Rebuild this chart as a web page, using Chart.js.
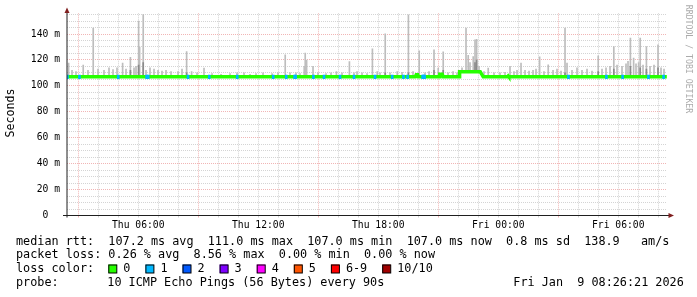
<!DOCTYPE html>
<html>
<head>
<meta charset="utf-8">
<script src="https://cdn.jsdelivr.net/npm/chart.js@4.4.1/dist/chart.umd.min.js"></script>
<style>
  html, body { margin: 0; padding: 0; background: #fff; }
  canvas { display: block; }
</style>
</head>
<body>
<canvas id="smoke" width="697" height="297"></canvas>
<script>
// x is hours since Thu 00:00, the graph covers 30h ending Fri 08:26:21
const startHour = 2 + 26 / 60 + 21 / 3600;
const endHour = startHour + 30;

const xLabelHours = [6, 12, 18, 24, 30];
const xLabels = ['Thu 06:00', 'Thu 12:00', 'Thu 18:00', 'Fri 00:00', 'Fri 06:00'];
const yLabelValues = [0, 20, 40, 60, 80, 100, 120, 140];
const yLabels = ['0  ', '20 m', '40 m', '60 m', '80 m', '100 m', '120 m', '140 m'];

// median rtt in ms
const medianHours = [2.44, 19.85, 19.90, 19.97, 20.00, 21.05, 21.08, 21.20, 21.25, 22.05, 22.07, 23.10, 23.25, 24.47, 24.50, 24.53, 32.43];
const medianMs    = [107,  107,   108.5, 108.5, 107,   107,   109,   109,   107,   107,   111,   111,   107,   107,   107.6, 107,   107];

// 1/10 packet loss steps
const lossHours = [2.46, 3.06, 5.00, 6.42, 6.50, 8.49, 9.55, 10.95, 12.75, 13.40, 13.82, 13.87, 14.76, 15.29,
  16.09, 16.79, 17.84, 18.70, 19.26, 19.47, 20.22, 20.27, 20.32, 27.51, 29.41, 30.22, 31.51, 32.27];

// smoke: highest ping per spike (ms)
const smokeHours = [2.52, 2.69, 2.89, 3.25, 3.49, 3.75, 3.99, 4.29, 4.54, 4.74, 4.94, 5.22, 5.39, 5.61, 5.79, 5.89,
  6.02, 6.07, 6.25, 6.39, 6.59, 6.79, 6.99, 7.19, 7.39, 7.64, 7.99, 8.19, 8.42, 8.67, 8.94, 9.29, 9.69, 10.14,
  10.59, 10.94, 11.29, 11.59, 11.89, 12.24, 12.69, 12.99, 13.35, 13.59, 13.89, 14.09, 14.30, 14.35, 14.42, 14.74,
  14.99, 15.39, 15.64, 15.91, 16.19, 16.56, 16.79, 16.94, 17.19, 17.44, 17.71, 17.95, 18.09, 18.35, 18.59, 18.95,
  19.19, 19.51, 19.74, 20.05, 20.34, 20.54, 20.79, 21.00, 21.25, 21.49, 21.74, 21.94, 22.19, 22.39, 22.50, 22.59,
  22.75, 22.84, 22.92, 23.04, 23.29, 23.50, 23.79, 24.09, 24.34, 24.59, 24.79, 24.94, 25.14, 25.34, 25.54, 25.74,
  25.89, 26.07, 26.29, 26.50, 26.74, 26.94, 27.14, 27.34, 27.44, 27.69, 27.94, 28.19, 28.44, 28.69, 29.00, 29.19,
  29.39, 29.59, 29.78, 29.94, 30.19, 30.39, 30.49, 30.61, 30.77, 30.89, 31.02, 31.10, 31.24, 31.41, 31.59, 31.79,
  31.99, 32.14, 32.29];
const smokeTops = [117.6, 112, 111, 116, 112, 144.6, 113, 112, 114, 112.5, 114, 117.6, 113, 122, 114, 115,
  150, 130, 155, 112, 114, 113, 112, 111.5, 112, 111, 111, 113, 126.5, 111, 110, 113.7, 109.5, 109,
  109.5, 110, 110, 109, 109.5, 110, 109.5, 110, 124, 110, 110, 109.5, 115, 125.3, 120, 115,
  110, 109.5, 110, 111, 110, 118.8, 110, 111, 110, 109.5, 128.6, 111, 110, 140.2, 110, 111,
  110.5, 154.9, 111, 127, 110, 111, 127.9, 113.7, 126.3, 110, 111, 110, 114, 144.6, 123.5, 118,
  122.7, 135.6, 136, 115, 111, 113.7, 110, 110, 110.5, 115, 111, 112, 117.6, 112, 111.5, 112,
  113, 122.5, 111, 116.3, 112, 113, 111.5, 144.6, 117.6, 112, 114, 112, 113, 111.5, 123.2, 113,
  114, 115, 130.3, 116, 115, 117, 119, 136.9, 121.4, 117, 118, 136.9, 116, 130.4, 115, 116,
  131.7, 114, 113];

// darker inner smoke
const darkHours = [5.61, 6.02, 6.25, 8.42, 18.35, 19.51, 20.79, 21.25, 22.84, 22.92, 27.34, 29.00, 29.78, 30.61, 31.10, 31.41, 31.99];
const darkTops  = [112,  116,  118,  110,  110,   110,   112,   112,   118,   120,   110,   111,   113,   115,   114,   113,   114];

const statLines = [
  'median rtt:  107.2 ms avg  111.0 ms max  107.0 ms min  107.0 ms now  0.8 ms sd  138.9   am/s',
  'packet loss: 0.26 % avg  8.56 % max  0.00 % min  0.00 % now'
];
const lossLabels = ['0', '1', '2', '3', '4', '5', '6-9', '10/10'];
const lossColors = ['#26ff00', '#00b8ff', '#0059ff', '#7e00ff', '#ff00ff', '#ff5500', '#ff0000', '#a10000'];
const probeText = '10 ICMP Echo Pings (56 Bytes) every 90s';
const dateText = 'Fri Jan  9 08:26:21 2026';

const MONO = '"DejaVu Sans Mono", monospace';
const minorGrid = 'rgba(143,143,143,0.38)';
const majorGrid = 'rgba(222,79,79,0.42)';

function medianAt(h) {
  for (let i = 1; i < medianHours.length; i++) {
    if (h <= medianHours[i]) {
      const t = (h - medianHours[i - 1]) / (medianHours[i] - medianHours[i - 1]);
      return medianMs[i - 1] + t * (medianMs[i] - medianMs[i - 1]);
    }
  }
  return medianMs[medianMs.length - 1];
}

const rrdDecor = {
  id: 'rrdDecor',
  beforeDraw(chart) {
    const c = chart.ctx;
    c.save();
    c.fillStyle = '#fff';
    c.fillRect(0, 0, chart.width, chart.height);
    c.restore();
  },
  afterDraw(chart) {
    const c = chart.ctx;
    const area = chart.chartArea;
    c.save();

    // axes
    c.strokeStyle = '#1f1f1f';
    c.lineWidth = 1;
    c.beginPath();
    c.moveTo(area.left, area.bottom + 2);
    c.lineTo(area.left, 10);
    c.moveTo(area.left - 4, area.bottom);
    c.lineTo(area.right + 2, area.bottom);
    c.stroke();

    // arrows
    c.fillStyle = '#801f1f';
    c.beginPath();
    c.moveTo(area.left, 7.5);
    c.lineTo(area.left - 2.5, 13);
    c.lineTo(area.left + 2.5, 13);
    c.closePath();
    c.fill();
    c.beginPath();
    c.moveTo(area.right + 7, area.bottom);
    c.lineTo(area.right + 1.5, area.bottom - 2.5);
    c.lineTo(area.right + 1.5, area.bottom + 2.5);
    c.closePath();
    c.fill();

    // y title
    c.fillStyle = '#000';
    c.font = '11.6px ' + MONO;
    c.textAlign = 'center';
    c.textBaseline = 'middle';
    c.save();
    c.translate(11, 113);
    c.rotate(-Math.PI / 2);
    c.fillText('Seconds', 0, 0);
    c.restore();

    // watermark
    c.save();
    c.fillStyle = '#ababab';
    c.font = '8.2px ' + MONO;
    c.translate(688, 59);
    c.rotate(Math.PI / 2);
    c.fillText('RRDTOOL / TOBI OETIKER', 0, 0);
    c.restore();

    // legend / stats
    c.font = '11.8px ' + MONO;
    c.textAlign = 'left';
    c.fillStyle = '#000';
    const cw = c.measureText('0').width;
    c.fillText(statLines[0], 16, 241.7);
    c.fillText(statLines[1], 16, 255.2);
    c.fillText('loss color:', 16, 269);
    let bx = 108.3;
    lossLabels.forEach((lab, i) => {
      c.fillStyle = lossColors[i];
      c.fillRect(bx, 264.5, 8.5, 8.5);
      c.strokeStyle = '#000';
      c.strokeRect(bx + 0.5, 265, 8, 8);
      c.fillStyle = '#000';
      c.fillText(lab, bx + 15, 269);
      bx += 15 + lab.length * cw + 15;
    });
    c.fillText('probe:', 16, 282.8);
    c.fillText(probeText, 107.3, 282.8);
    c.fillText(dateText, 513.3, 282.8);
    c.restore();
  }
};

new Chart(document.getElementById('smoke'), {
  type: 'bar',
  data: {
    datasets: [
      {
        type: 'bar',
        data: lossHours.map(h => ({ x: h, y: [medianAt(h) - 1.4, medianAt(h) + 1.4] })),
        backgroundColor: lossColors[1],
        barThickness: 2,
        grouped: false,
        order: 0
      },
      {
        type: 'line',
        data: medianHours.map((h, i) => ({ x: h, y: medianMs[i] })),
        borderColor: lossColors[0],
        borderWidth: 3.5,
        pointRadius: 0,
        tension: 0,
        borderCapStyle: 'butt',
        order: 1
      },
      {
        type: 'bar',
        data: darkHours.map((h, i) => ({ x: h, y: [medianAt(h), darkTops[i]] })),
        backgroundColor: '#8a8a8a',
        barThickness: 1,
        grouped: false,
        order: 2
      },
      {
        type: 'bar',
        data: smokeHours.map((h, i) => ({ x: h, y: [medianAt(h), smokeTops[i]] })),
        backgroundColor: '#bdbdbd',
        barThickness: 1,
        grouped: false,
        order: 3
      }
    ]
  },
  options: {
    responsive: false,
    animation: false,
    devicePixelRatio: 1,
    layout: { padding: { top: 13.3, right: 30, bottom: 0, left: 0 } },
    plugins: { legend: { display: false }, tooltip: { enabled: false } },
    scales: {
      x: {
        type: 'linear',
        min: startHour,
        max: endHour,
        offset: false,
        afterFit: s => { s.height = 297 - 215.5; },
        afterBuildTicks: s => {
          const t = [];
          for (let h = 3; h <= 32; h++) t.push({ value: h });
          s.ticks = t;
        },
        grid: {
          offset: false,
          color: ctx => ((ctx.tick.value - 3) % 6 === 0 ? majorGrid : minorGrid),
          tickColor: ctx => ((ctx.tick.value - 3) % 6 === 0 ? majorGrid : minorGrid),
          tickLength: 2,
          lineWidth: 1
        },
        border: { display: false, dash: [1, 1] },
        ticks: {
          autoSkip: false,
          maxRotation: 0,
          minRotation: 0,
          padding: 2,
          color: '#000',
          font: { family: MONO, size: 9.7 },
          callback: v => {
            const i = xLabelHours.indexOf(v);
            return i >= 0 ? xLabels[i] : '';
          }
        }
      },
      y: {
        type: 'linear',
        min: 0,
        max: 156,
        afterFit: s => { s.width = 67; },
        afterBuildTicks: s => {
          const t = [];
          for (let v = 0; v <= 155; v += 5) t.push({ value: v });
          s.ticks = t;
        },
        grid: {
          drawTicks: false,
          lineWidth: 1,
          color: ctx => (ctx.tick.value === 0 ? 'rgba(0,0,0,0)' : (ctx.tick.value % 20 === 0 ? majorGrid : minorGrid))
        },
        border: { display: false, dash: [1, 1] },
        ticks: {
          autoSkip: false,
          padding: 7,
          color: '#000',
          font: { family: MONO, size: 9.7 },
          callback: v => {
            const i = yLabelValues.indexOf(v);
            return i >= 0 ? yLabels[i] : '';
          }
        }
      }
    }
  },
  plugins: [rrdDecor]
});
</script>
</body>
</html>
